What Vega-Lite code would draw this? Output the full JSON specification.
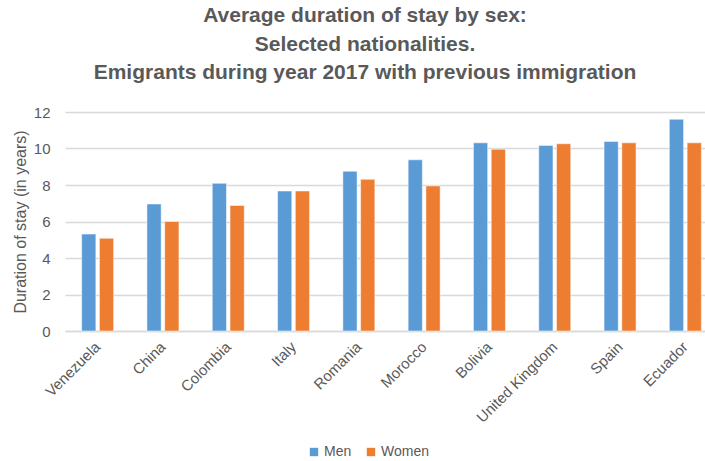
{
  "$schema": "https://vega.github.io/schema/vega-lite/v6.json",
  "autosize": "none",
  "width": 640,
  "height": 219,
  "padding": {"left": 65, "top": 112, "right": 0, "bottom": 130},
  "background": "white",
  "title": {
    "text": ["Average duration of stay by sex:", "Selected nationalities.", "Emigrants during year 2017 with previous immigration"],
    "anchor": "middle",
    "frame": "group",
    "dx": -20,
    "offset": 22,
    "font": "Liberation Sans",
    "fontSize": 21,
    "fontWeight": "bold",
    "color": "#595959",
    "lineHeight": 28.5
  },
  "data": {
    "values": [
      {"nationality": "Venezuela", "sex": "Men", "value": 5.31},
      {"nationality": "Venezuela", "sex": "Women", "value": 5.08},
      {"nationality": "China", "sex": "Men", "value": 6.96},
      {"nationality": "China", "sex": "Women", "value": 6.0},
      {"nationality": "Colombia", "sex": "Men", "value": 8.09},
      {"nationality": "Colombia", "sex": "Women", "value": 6.88},
      {"nationality": "Italy", "sex": "Men", "value": 7.67},
      {"nationality": "Italy", "sex": "Women", "value": 7.67},
      {"nationality": "Romania", "sex": "Men", "value": 8.75},
      {"nationality": "Romania", "sex": "Women", "value": 8.31},
      {"nationality": "Morocco", "sex": "Men", "value": 9.38},
      {"nationality": "Morocco", "sex": "Women", "value": 7.95},
      {"nationality": "Bolivia", "sex": "Men", "value": 10.31},
      {"nationality": "Bolivia", "sex": "Women", "value": 9.96},
      {"nationality": "United Kingdom", "sex": "Men", "value": 10.17},
      {"nationality": "United Kingdom", "sex": "Women", "value": 10.26},
      {"nationality": "Spain", "sex": "Men", "value": 10.39},
      {"nationality": "Spain", "sex": "Women", "value": 10.31},
      {"nationality": "Ecuador", "sex": "Men", "value": 11.6},
      {"nationality": "Ecuador", "sex": "Women", "value": 10.31}
    ]
  },
  "mark": {"type": "bar", "stroke": "white", "strokeWidth": 0.5},
  "encoding": {
    "x": {
      "field": "nationality",
      "type": "nominal",
      "sort": null,
      "scale": {"range": [0, 653], "paddingInner": 0.51, "paddingOuter": 0.255},
      "axis": {
        "title": null,
        "labelAngle": -45,
        "labelAlign": "right",
        "labelBaseline": "middle",
        "labelFont": "Liberation Sans",
        "labelFontSize": 15,
        "labelColor": "#595959",
        "labelPadding": 13,
        "labelOffset": 0,
        "ticks": false,
        "domain": true,
        "domainColor": "#d9d9d9",
        "domainWidth": 1.5,
        "grid": false
      }
    },
    "xOffset": {
      "field": "sex",
      "type": "nominal",
      "scale": {"paddingInner": 0.2, "paddingOuter": 0}
    },
    "y": {
      "field": "value",
      "type": "quantitative",
      "scale": {"domain": [0, 12]},
      "axis": {
        "title": "Duration of stay (in years)",
        "titleFont": "Liberation Sans",
        "titleFontSize": 16,
        "titleFontWeight": "normal",
        "titleColor": "#595959",
        "titleX": -45,
        "titleY": 109.5,
        "titleAngle": -90,
        "titleAlign": "center",
        "titleBaseline": "middle",
        "values": [0, 2, 4, 6, 8, 10, 12],
        "labelFont": "Liberation Sans",
        "labelFontSize": 15,
        "labelColor": "#595959",
        "labelPadding": 15,
        "ticks": false,
        "domain": false,
        "grid": true,
        "gridColor": "#d9d9d9",
        "gridWidth": 1.5
      }
    },
    "color": {
      "field": "sex",
      "type": "nominal",
      "scale": {"domain": ["Men", "Women"], "range": ["#5b9bd5", "#ed7d31"]},
      "legend": {
        "title": null,
        "orient": "none",
        "direction": "horizontal",
        "legendX": 242,
        "legendY": 333,
        "symbolType": "square",
        "symbolSize": 70,
        "symbolStrokeWidth": 0,
        "labelFont": "Liberation Sans",
        "labelFontSize": 14,
        "labelColor": "#595959",
        "labelOffset": 3,
        "columnPadding": 12
      }
    }
  },
  "config": {"view": {"stroke": null}}
}
